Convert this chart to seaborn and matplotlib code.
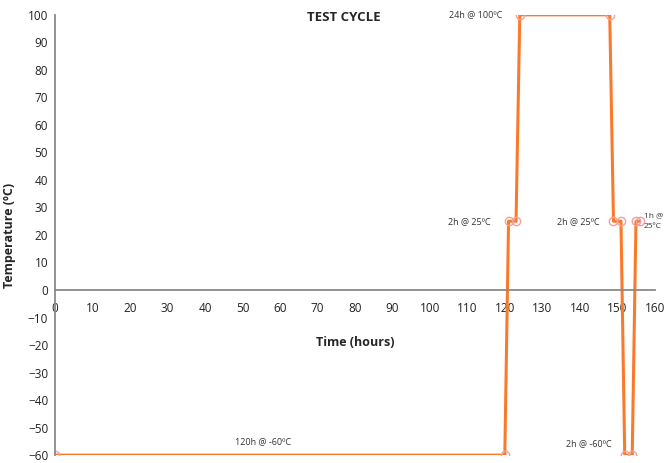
import pandas as pd
import matplotlib
matplotlib.use("Agg")
import matplotlib.pyplot as plt
import seaborn as sns

# ---- data ----
time_h = [0, 120, 121, 123, 124, 148, 149, 151, 152, 154, 155, 156]
temp_c = [-60, -60, 25, 25, 100, 100, 25, 25, -60, -60, 25, 25]
x_ticks = list(range(0, 161, 10))
y_ticks = list(range(-60, 101, 10))

sns.set_style("white")
plt.rcParams["font.family"] = ["Open Sans", "DejaVu Sans"]

df = pd.DataFrame({"time": time_h, "temp": temp_c})

fig = plt.figure(figsize=(6.64, 4.63), dpi=100)
ax = fig.add_axes([0.083, 0.017, 0.903, 0.951])

sns.lineplot(
    data=df, x="time", y="temp", ax=ax,
    estimator=None, sort=False,
    color="#FA7A2C", linewidth=2.2,
    marker="o", markersize=6,
    markerfacecolor="none", markeredgecolor="#F2A0A0", markeredgewidth=1.0,
)

ax.set_xlim(0, 160)
ax.set_ylim(-60, 100)
ax.set_xticks(x_ticks)
ax.set_yticks(y_ticks)

# axes through the origin, like the spreadsheet original
for s in ["top", "right"]:
    ax.spines[s].set_visible(False)
ax.spines["bottom"].set_position(("data", 0))
ax.spines["left"].set_position(("data", 0))
for s in ["bottom", "left"]:
    ax.spines[s].set_color("#8a8a8a")
    ax.spines[s].set_linewidth(1.3)
ax.tick_params(axis="x", direction="inout", length=5, color="#8a8a8a",
               labelsize=8.5, pad=6)
ax.tick_params(axis="y", direction="out", length=3, color="#8a8a8a",
               labelsize=8.5, pad=2)
for lab in ax.get_xticklabels() + ax.get_yticklabels():
    lab.set_color("#222222")

ax.set_xlabel("Time (hours)", fontsize=9, fontweight="bold")
ax.xaxis.set_label_coords(0.5, 0.27)
ax.set_ylabel("Temperature (ºC)", fontsize=9, fontweight="bold")
ax.yaxis.set_label_coords(-0.065, 0.5)

ax.text(77, 99, "TEST CYCLE", fontsize=9.5, fontweight="bold",
        ha="center", va="center")

# step annotations
note = dict(fontsize=6.5, color="#333333", va="center")
ax.text(119.3, 100, "24h @ 100ºC", ha="right", **note)
ax.text(116.3, 25, "2h @ 25ºC", ha="right", **note)
ax.text(145.3, 25, "2h @ 25ºC", ha="right", **note)
ax.text(157.1, 25, "1h @\n25ºC", ha="left", linespacing=1.6,
        fontsize=6, color="#333333", va="center")
ax.text(142.3, -56, "2h @ -60ºC", ha="center", **note)
ax.text(55.5, -55, "120h @ -60ºC", ha="center", **note)

fig.savefig("out.png", dpi=100)
